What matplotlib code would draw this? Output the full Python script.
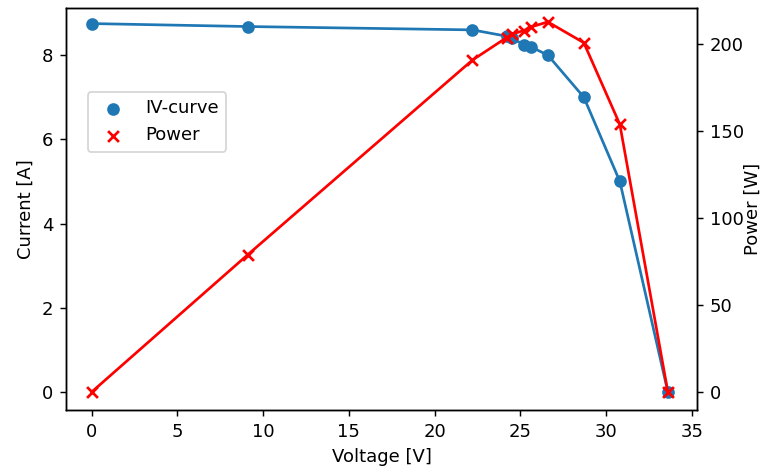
import matplotlib
matplotlib.use("Agg")
from matplotlib import pyplot as plt

# data
voltage = [0, 9.1, 22.2, 24.2, 24.5, 25.2, 25.6, 26.6, 28.7, 30.8, 33.6]
current = [8.75, 8.68, 8.6, 8.45, 8.4, 8.25, 8.2, 8.0, 7.0, 5.0, 0]
power = [0, 79, 191, 204, 206, 208, 210, 213, 201, 154, 0]

dpi = 130
fig, ax1 = plt.subplots(figsize=(764 / dpi, 472 / dpi), dpi=dpi)
fig.subplots_adjust(left=66 / 764, right=697 / 764, top=1 - 8 / 472, bottom=1 - 410 / 472)

ax1.plot(voltage, current, color="tab:blue")
s1 = ax1.scatter(voltage, current, color="tab:blue", label="IV-curve", zorder=3)
ax1.set_xlabel("Voltage [V]")
ax1.set_ylabel("Current [A]")
ax1.set_xlim(-1.5, 35.3)
ax1.set_ylim(-0.43, 9.12)

ax2 = ax1.twinx()
ax2.plot(voltage, power, color="red")
s2 = ax2.scatter(voltage, power, color="red", marker="x", label="Power", zorder=3)
ax2.set_ylabel("Power [W]", labelpad=0)
ax2.set_ylim(-10.4, 221)

ax1.legend(handles=[s1, s2], loc="upper left", bbox_to_anchor=(0.02, 0.813))
fig.savefig("out.png", dpi=dpi)
